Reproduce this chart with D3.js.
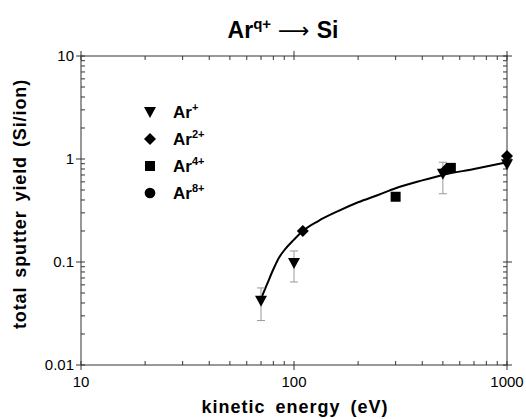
<!DOCTYPE html>
<html>
<head>
<meta charset="utf-8">
<script src="https://cdn.jsdelivr.net/npm/d3@7"></script>
<style>
  body { margin: 0; background: #fff; }
  svg { font-family: "Liberation Sans", Arial, sans-serif; }
</style>
</head>
<body>
<div id="vis"></div>
<script>
// data
const AR1_E = [70, 100, 500, 1000];
const AR1_Y = [0.042, 0.098, 0.72, 0.89];
const AR1_LO = [0.027, 0.064, 0.46, null];
const AR1_HI = [0.056, 0.128, 0.93, null];

const AR2_E = [110, 520, 1000];
const AR2_Y = [0.20, 0.80, 1.07];

const AR4_E = [300, 545];
const AR4_Y = [0.43, 0.82];

const FIT_E = [70, 75, 80, 85, 90, 100, 110, 130, 160, 200, 250, 300, 400, 500, 700, 1000];
const FIT_Y = [0.044, 0.062, 0.085, 0.11, 0.13, 0.165, 0.20, 0.25, 0.31, 0.38, 0.45, 0.52, 0.62, 0.70, 0.80, 0.93];

const LEGEND = [
  {sym: "tri", sup: "+"},
  {sym: "dia", sup: "2+"},
  {sym: "sq", sup: "4+"},
  {sym: "circ", sup: "8+"}
];

const X_TICKS = [10, 100, 1000];
const Y_TICKS = [0.01, 0.1, 1, 10];

// frame
const FRAME_WIDTH = 526;
const FRAME_HEIGHT = 419;
const MARGINS = {left: 81, right: 19, top: 56, bottom: 54};

const FRAME = d3.select("#vis")
  .append("svg")
    .attr("width", FRAME_WIDTH)
    .attr("height", FRAME_HEIGHT);

const X_SCALE = d3.scaleLog()
  .domain([10, 1000])
  .range([MARGINS.left, FRAME_WIDTH - MARGINS.right]);

const Y_SCALE = d3.scaleLog()
  .domain([0.01, 10])
  .range([FRAME_HEIGHT - MARGINS.bottom, MARGINS.top]);

const AX = "#333";
const x0 = X_SCALE.range()[0], x1 = X_SCALE.range()[1];
const y0 = Y_SCALE.range()[0], y1 = Y_SCALE.range()[1];

// box
FRAME.append("rect")
  .attr("x", x0).attr("y", y1)
  .attr("width", x1 - x0).attr("height", y0 - y1)
  .attr("fill", "none").attr("stroke", AX).attr("stroke-width", 1);

// minor + major ticks on all four sides
function allTicks(lo, hi) {
  const out = [];
  for (let d = lo; d < hi; d *= 10) {
    for (let k = 1; k < 10; k++) out.push({v: d * k, major: k === 1});
  }
  out.push({v: hi, major: true});
  return out;
}

const xt = allTicks(10, 1000);
const yt = allTicks(0.01, 10);

const tickG = FRAME.append("g").attr("stroke", AX).attr("stroke-width", 1);
xt.forEach((t) => {
  const x = X_SCALE(t.v);
  // bottom
  tickG.append("line").attr("x1", x).attr("x2", x)
    .attr("y1", t.major ? y0 + 5 : y0).attr("y2", y0 - 4);
  // top
  tickG.append("line").attr("x1", x).attr("x2", x)
    .attr("y1", t.major ? y1 - 5 : y1).attr("y2", y1 + 4);
});
yt.forEach((t) => {
  const y = Y_SCALE(t.v);
  tickG.append("line").attr("y1", y).attr("y2", y)
    .attr("x1", t.major ? x0 - 5 : x0).attr("x2", x0 + 4);
  tickG.append("line").attr("y1", y).attr("y2", y)
    .attr("x1", t.major ? x1 + 5 : x1).attr("x2", x1 - 4);
});

// tick labels
FRAME.selectAll(".xlab")
  .data(X_TICKS)
  .enter()
  .append("text")
    .attr("x", (d) => X_SCALE(d))
    .attr("y", y0 + 22)
    .attr("text-anchor", "middle")
    .attr("font-size", "15px")
    .text((d) => d);

FRAME.selectAll(".ylab")
  .data(Y_TICKS)
  .enter()
  .append("text")
    .attr("x", x0 - 7)
    .attr("y", (d) => Y_SCALE(d) + 5)
    .attr("text-anchor", "end")
    .attr("font-size", "15px")
    .text((d) => d);

// axis titles
FRAME.append("text")
  .attr("x", 295).attr("y", 413)
  .attr("text-anchor", "middle")
  .attr("font-size", "18px").attr("font-weight", "bold")
  .attr("letter-spacing", "1px").attr("word-spacing", "4px")
  .text("kinetic energy (eV)");

FRAME.append("text")
  .attr("transform", "translate(26," + 204 + ") rotate(-90)")
  .attr("text-anchor", "middle")
  .attr("font-size", "18px").attr("font-weight", "bold")
  .attr("letter-spacing", "0.9px").attr("word-spacing", "3px")
  .text("total sputter yield (Si/ion)");

// title
const title = FRAME.append("text")
  .attr("x", 283).attr("y", 38)
  .attr("text-anchor", "middle")
  .attr("font-size", "23px").attr("font-weight", "bold");
title.append("tspan").text("Ar");
title.append("tspan").attr("dy", -9).attr("font-size", "15px").text("q+");
title.append("tspan").attr("dy", 9).attr("font-weight", "normal")
  .attr("font-family", "DejaVu Sans").attr("font-size", "22px").text(" \u27F6 ");
title.append("tspan").text("Si");

// fit curve
const line = d3.line()
  .x((d) => X_SCALE(d[0]))
  .y((d) => Y_SCALE(d[1]))
  .curve(d3.curveMonotoneX);

FRAME.append("path")
  .datum(d3.zip(FIT_E, FIT_Y))
  .attr("d", line)
  .attr("fill", "none")
  .attr("stroke", "#000")
  .attr("stroke-width", 2);

// error bars
const errs = d3.zip(AR1_E, AR1_LO, AR1_HI).filter((d) => d[1] !== null);
const errG = FRAME.append("g").attr("stroke", "#999").attr("stroke-width", 1);
errs.forEach((d) => {
  const x = X_SCALE(d[0]);
  errG.append("line").attr("x1", x).attr("x2", x)
    .attr("y1", Y_SCALE(d[1])).attr("y2", Y_SCALE(d[2]));
  [d[1], d[2]].forEach((v) => {
    errG.append("line").attr("x1", x - 4).attr("x2", x + 4)
      .attr("y1", Y_SCALE(v)).attr("y2", Y_SCALE(v));
  });
});

// symbols
function symPath(kind) {
  if (kind === "tri") return "M-6,-5L6,-5L0,6Z";
  if (kind === "dia") return "M0,-6L6,0L0,6L-6,0Z";
  if (kind === "sq") return "M-5,-5L5,-5L5,5L-5,5Z";
  return d3.symbol().type(d3.symbolCircle).size(90)();
}

function drawPoints(es, ys, kind) {
  FRAME.selectAll(".p-" + kind)
    .data(d3.zip(es, ys))
    .enter()
    .append("path")
      .attr("d", symPath(kind))
      .attr("transform", (d) => "translate(" + X_SCALE(d[0]) + "," + Y_SCALE(d[1]) + ")")
      .attr("fill", "#000");
}

drawPoints(AR4_E, AR4_Y, "sq");
drawPoints(AR2_E, AR2_Y, "dia");
drawPoints(AR1_E, AR1_Y, "tri");

// legend
LEGEND.forEach((d, i) => {
  const y = 112 + i * 27;
  FRAME.append("path")
    .attr("d", symPath(d.sym))
    .attr("transform", "translate(150," + y + ")")
    .attr("fill", "#000");
  const t = FRAME.append("text")
    .attr("x", 173).attr("y", y + 6)
    .attr("font-size", "17px").attr("font-weight", "bold");
  t.append("tspan").text("Ar");
  t.append("tspan").attr("dy", -7).attr("font-size", "11px").text(d.sup);
});
</script>
</body>
</html>
